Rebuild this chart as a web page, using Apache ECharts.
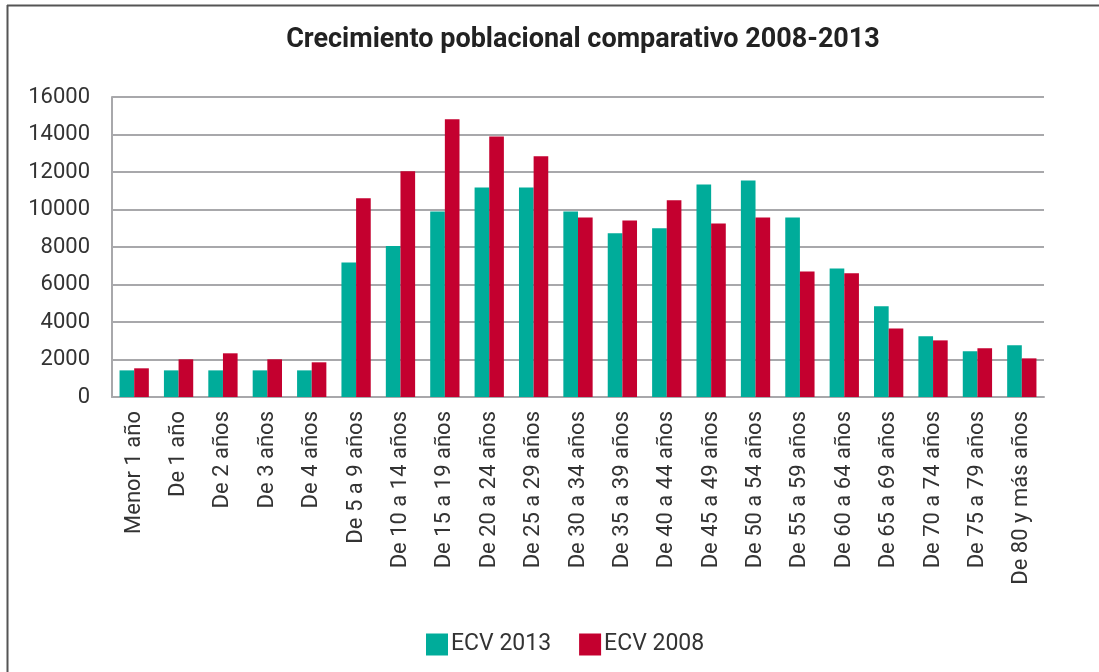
<!DOCTYPE html>
<html>
<head>
<meta charset="utf-8">
<script src="https://cdn.jsdelivr.net/npm/echarts@6/dist/echarts.min.js"></script>
<style>html,body{margin:0;padding:0;background:#fff}#c{width:1099px;height:672px}</style>
</head>
<body>
<div id="c"></div>
<script>
const categories = ["Menor 1 año","De 1 año","De 2 años","De 3 años","De 4 años","De 5 a 9 años","De 10 a 14 años","De 15 a 19 años","De 20 a 24 años","De 25 a 29 años","De 30 a 34 años","De 35 a 39 años","De 40 a 44 años","De 45 a 49 años","De 50 a 54 años","De 55 a 59 años","De 60 a 64 años","De 65 a 69 años","De 70 a 74 años","De 75 a 79 años","De 80 y más años"];
const ecv2013 = [1420,1420,1420,1420,1420,7180,8050,9900,11180,11180,9900,8730,9000,11340,11550,9580,6860,4840,3240,2440,2760];
const ecv2008 = [1530,2010,2330,2010,1850,10600,12040,14810,13900,12840,9580,9420,10490,9260,9580,6700,6600,3660,3020,2600,2060];
const yTicks = [0,2000,4000,6000,8000,10000,12000,14000,16000];
const seriesNames = ["ECV 2013","ECV 2008"];

const chart = echarts.init(document.getElementById('c'), null, {renderer:'canvas'});
const font = 'Roboto, "DejaVu Sans", sans-serif';
chart.setOption({
  animation:false,
  backgroundColor:'#fff',
  title:{text:'Crecimiento poblacional comparativo 2008-2013', left:578, textAlign:'center', top:22,
    textStyle:{fontFamily:font, fontSize:27, fontWeight:'bold', color:'#222'}},
  graphic:[
    {type:'line', shape:{x1:7.5,y1:5,x2:7.5,y2:672}, style:{stroke:'#555', lineWidth:2}},
    {type:'line', shape:{x1:7,y1:5.5,x2:1099,y2:5.5}, style:{stroke:'#555', lineWidth:2}}
  ],
  legend:{data:seriesNames, bottom:11, left:421, itemWidth:22, itemHeight:22, itemGap:28,
    icon:'rect', textStyle:{fontFamily:font, fontSize:23, color:'#333', padding:[0,0,0,-2]}},
  grid:{left:112, right:55, top:97, bottom:275, containLabel:false},
  xAxis:{type:'category', data:categories,
    axisLine:{lineStyle:{color:'#a8a8ab', width:2}},
    axisTick:{show:false},
    axisLabel:{rotate:90, interval:0, margin:14, fontFamily:font, fontSize:22, color:'#333'}},
  yAxis:{type:'value', min:yTicks[0], max:yTicks[yTicks.length-1], interval:2000,
    axisLine:{show:true, lineStyle:{color:'#a8a8ab', width:2}},
    axisTick:{show:false},
    splitLine:{lineStyle:{color:'#a8a8ab', width:2}},
    axisLabel:{margin:22, fontFamily:font, fontSize:22, color:'#333', formatter:v => String(v)}},
  series:[
    {name:seriesNames[0], type:'bar', data:ecv2013, itemStyle:{color:'#00ac9a'}, barGap:'0%', barCategoryGap:'34%'},
    {name:seriesNames[1], type:'bar', data:ecv2008, itemStyle:{color:'#c4002f'}, barGap:'0%', barCategoryGap:'34%'}
  ]
});
</script>
</body>
</html>
